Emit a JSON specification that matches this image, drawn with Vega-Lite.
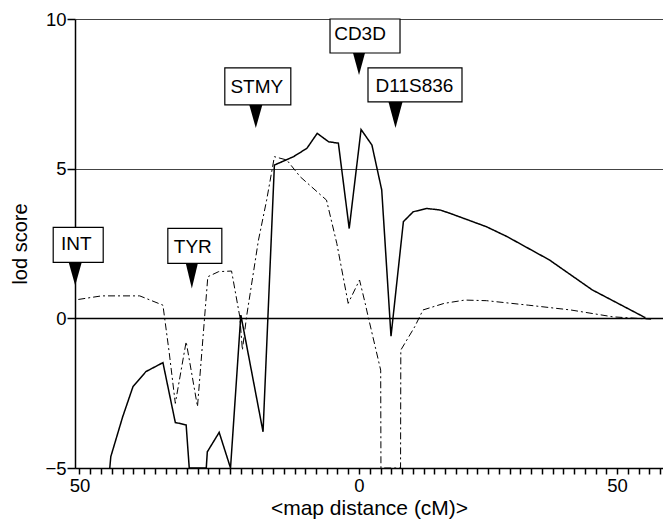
{
  "$schema": "https://vega.github.io/schema/vega-lite/v6.json",
  "width": 588,
  "height": 449,
  "autosize": {"type": "none"},
  "padding": {"left": 75, "top": 19, "right": 0, "bottom": 51},
  "background": "white",
  "config": {
    "view": {"stroke": null},
    "font": "Liberation Sans",
    "axis": {
      "labelFont": "Liberation Sans",
      "titleFont": "Liberation Sans",
      "labelColor": "black",
      "titleColor": "black",
      "titleFontWeight": "normal",
      "domainColor": "black"
    }
  },
  "datasets": {
    "curves": [
      {"s": "solid", "cM": -48.3, "lod": -5},
      {"s": "solid", "cM": -48.1, "lod": -4.62},
      {"s": "solid", "cM": -45.8, "lod": -3.29},
      {"s": "solid", "cM": -43.8, "lod": -2.28},
      {"s": "solid", "cM": -41.3, "lod": -1.78},
      {"s": "solid", "cM": -38.0, "lod": -1.48},
      {"s": "solid", "cM": -35.6, "lod": -3.48},
      {"s": "solid", "cM": -33.5, "lod": -3.56},
      {"s": "solid", "cM": -32.9, "lod": -5},
      {"s": "solid", "cM": -29.6, "lod": -5},
      {"s": "solid", "cM": -29.4, "lod": -4.46},
      {"s": "solid", "cM": -27.1, "lod": -3.81},
      {"s": "solid", "cM": -24.9, "lod": -5},
      {"s": "solid", "cM": -22.9, "lod": 0.11},
      {"s": "solid", "cM": -18.6, "lod": -3.79},
      {"s": "solid", "cM": -16.4, "lod": 5.12},
      {"s": "solid", "cM": -12.7, "lod": 5.4},
      {"s": "solid", "cM": -10.1, "lod": 5.68},
      {"s": "solid", "cM": -8.1, "lod": 6.18},
      {"s": "solid", "cM": -5.9, "lod": 5.9},
      {"s": "solid", "cM": -4.0, "lod": 5.85},
      {"s": "solid", "cM": -1.9, "lod": 3.0},
      {"s": "solid", "cM": 0.4, "lod": 6.31},
      {"s": "solid", "cM": 2.5, "lod": 5.79},
      {"s": "solid", "cM": 4.4, "lod": 4.29},
      {"s": "solid", "cM": 6.2, "lod": -0.6},
      {"s": "solid", "cM": 8.6, "lod": 3.23},
      {"s": "solid", "cM": 10.5, "lod": 3.56},
      {"s": "solid", "cM": 13.1, "lod": 3.67},
      {"s": "solid", "cM": 15.7, "lod": 3.62},
      {"s": "solid", "cM": 17.6, "lod": 3.51},
      {"s": "solid", "cM": 24.7, "lod": 3.06},
      {"s": "solid", "cM": 28.7, "lod": 2.73},
      {"s": "solid", "cM": 36.9, "lod": 1.95},
      {"s": "solid", "cM": 45.2, "lod": 0.95},
      {"s": "solid", "cM": 55.5, "lod": 0.02},
      {"s": "dashdot", "cM": -54.4, "lod": 0.63},
      {"s": "dashdot", "cM": -49.9, "lod": 0.75},
      {"s": "dashdot", "cM": -42.5, "lod": 0.75},
      {"s": "dashdot", "cM": -38.0, "lod": 0.44},
      {"s": "dashdot", "cM": -36.8, "lod": -1.12},
      {"s": "dashdot", "cM": -35.6, "lod": -2.84},
      {"s": "dashdot", "cM": -33.5, "lod": -0.78},
      {"s": "dashdot", "cM": -31.3, "lod": -2.95},
      {"s": "dashdot", "cM": -29.3, "lod": 1.39},
      {"s": "dashdot", "cM": -27.2, "lod": 1.56},
      {"s": "dashdot", "cM": -24.7, "lod": 1.58},
      {"s": "dashdot", "cM": -23.1, "lod": 0.05},
      {"s": "dashdot", "cM": -22.6, "lod": -1.06},
      {"s": "dashdot", "cM": -21.8, "lod": 0.05},
      {"s": "dashdot", "cM": -19.5, "lod": 2.6},
      {"s": "dashdot", "cM": -17.9, "lod": 3.95},
      {"s": "dashdot", "cM": -16.4, "lod": 5.4},
      {"s": "dashdot", "cM": -14.0, "lod": 5.29},
      {"s": "dashdot", "cM": -11.4, "lod": 4.73},
      {"s": "dashdot", "cM": -6.3, "lod": 3.95},
      {"s": "dashdot", "cM": -4.3, "lod": 2.5},
      {"s": "dashdot", "cM": -2.1, "lod": 0.5},
      {"s": "dashdot", "cM": 0.1, "lod": 1.28},
      {"s": "dashdot", "cM": 1.2, "lod": 0.5},
      {"s": "dashdot", "cM": 1.7, "lod": 0.11},
      {"s": "dashdot", "cM": 4.2, "lod": -1.73},
      {"s": "dashdot", "cM": 4.25, "lod": -5},
      {"s": "dashdot", "cM": 8.05, "lod": -5},
      {"s": "dashdot", "cM": 8.1, "lod": -1.06},
      {"s": "dashdot", "cM": 10.8, "lod": -0.28},
      {"s": "dashdot", "cM": 12.4, "lod": 0.28},
      {"s": "dashdot", "cM": 16.5, "lod": 0.5},
      {"s": "dashdot", "cM": 20.5, "lod": 0.61},
      {"s": "dashdot", "cM": 24.7, "lod": 0.59},
      {"s": "dashdot", "cM": 32.8, "lod": 0.44},
      {"s": "dashdot", "cM": 41.0, "lod": 0.28},
      {"s": "dashdot", "cM": 49.2, "lod": 0.05},
      {"s": "dashdot", "cM": 56.6, "lod": -0.03}
    ],
    "markers": [
      {"marker": "INT", "cM": -55.0, "lod": 1.1},
      {"marker": "TYR", "cM": -32.4, "lod": 1.0},
      {"marker": "STMY", "cM": -20.0, "lod": 6.36},
      {"marker": "CD3D", "cM": 0.0, "lod": 8.13},
      {"marker": "D11S836", "cM": 7.07, "lod": 6.36}
    ]
  },
  "encoding": {
    "x": {
      "field": "cM", "type": "quantitative",
      "title": "<map distance (cM)>",
      "scale": {"domain": [-55.04, 58.91], "nice": false, "zero": false},
      "axis": {
        "values": [-54.17, -52.08, -50, -47.92, -45.83, -43.75, -41.67, -39.58, -37.5, -35.42, -33.33, -31.25, -29.17, -27.08, -25, -22.92, -20.83, -18.75, -16.67, -14.58, -12.5, -10.42, -8.33, -6.25, -4.17, -2.08, 0, 2.08, 4.17, 6.25, 8.33, 10.42, 12.5, 14.58, 16.67, 18.75, 20.83, 22.92, 25, 27.08, 29.17, 31.25, 33.33, 35.42, 37.5, 39.58, 41.67, 43.75, 45.83, 47.92, 50, 52.08, 54.17, 56.25, 58.33],
        "labelExpr": "datum.value < -54 ? '50' : (abs(datum.value) < 0.01 ? '0' : (abs(datum.value - 50) < 0.01 ? '50' : ''))",
        "labelOverlap": false,
        "labelFlush": false,
        "labelBound": false,
        "labelFontSize": 18.5,
        "labelPadding": 2,
        "ticks": true,
        "tickSize": 6,
        "tickWidth": 1.5,
        "tickColor": "#000000",
        "tickOpacity": 1,
        "tickRound": true,
        "domainWidth": 1.5,
        "grid": false,
        "titleFontSize": 21,
        "titlePadding": 3
      }
    },
    "y": {
      "field": "lod", "type": "quantitative",
      "title": "lod score",
      "scale": {"domain": [-5, 10], "nice": false, "zero": false},
      "axis": {
        "values": [-5, 0, 5, 10],
        "grid": true,
        "gridColor": {"condition": {"test": "datum.value == 0", "value": "black"}, "value": "#444"},
        "gridWidth": {"condition": {"test": "datum.value == 0", "value": 1.7}, "value": 1},
        "ticks": true,
        "tickSize": 8,
        "tickWidth": 1.5,
        "tickColor": "#000000",
        "tickOpacity": 1,
        "labelFontSize": 18.5,
        "labelPadding": 1,
        "labelFlush": false,
        "domainWidth": 1.5,
        "titleFontSize": 20,
        "titlePadding": 14
      }
    }
  },
  "layer": [
    {
      "data": {"name": "curves"},
      "mark": {"type": "line", "color": "black", "clip": true},
      "encoding": {
        "strokeDash": {
          "field": "s", "type": "nominal",
          "scale": {"domain": ["solid", "dashdot"], "range": [[1, 0], [7, 3, 2, 3]]},
          "legend": null
        },
        "strokeWidth": {
          "field": "s", "type": "nominal",
          "scale": {"domain": ["solid", "dashdot"], "range": [1.5, 1]},
          "legend": null
        },
        "detail": {"field": "s", "type": "nominal"}
      }
    },
    {
      "data": {"name": "markers"},
      "mark": {"type": "point", "filled": true, "color": "black", "opacity": 1, "strokeWidth": 0, "size": 400, "clip": false},
      "encoding": {
        "shape": {
          "field": "marker", "type": "nominal", "legend": null,
          "scale": {
            "domain": ["INT", "TYR", "STMY", "CD3D", "D11S836"],
            "range": [
              "M-0.65,-2.3L0.65,-2.3L0,0Z",
              "M-0.6,-2.5L0.6,-2.5L0,0Z",
              "M-0.65,-2.3L0.65,-2.3L0,0Z",
              "M-0.6,-2.2L0.6,-2.2L0,0Z",
              "M-0.7,-2.6L0.7,-2.6L0,0Z"
            ]
          }
        }
      }
    },
    {
      "data": {"name": "markers"},
      "mark": {"type": "point", "filled": true, "fill": "white", "stroke": "black", "strokeWidth": 1.2, "opacity": 1, "size": 400, "clip": false},
      "encoding": {
        "shape": {
          "field": "marker", "type": "nominal", "legend": null,
          "scale": {
            "domain": ["INT", "TYR", "STMY", "CD3D", "D11S836"],
            "range": [
              "M-2.2,-5.8L2.8,-5.8L2.8,-2.3L-2.2,-2.3Z",
              "M-2.4,-6L3,-6L3,-2.5L-2.4,-2.5Z",
              "M-3.1,-6L3.5,-6L3.5,-2.3L-3.1,-2.3Z",
              "M-2.9,-5.6L4.1,-5.6L4.1,-2.2L-2.9,-2.2Z",
              "M-2.75,-6L6.65,-6L6.65,-2.6L-2.75,-2.6Z"
            ]
          }
        }
      }
    },
    {
      "data": {"name": "markers"},
      "transform": [{"filter": "datum.marker != 'D11S836'"}],
      "mark": {"type": "text", "color": "black", "fontSize": 19, "font": "Liberation Sans", "baseline": "middle", "align": "center", "dy": -41, "dx": 1, "clip": false},
      "encoding": {
        "text": {"field": "marker", "type": "nominal"}
      }
    },
    {
      "data": {"name": "markers"},
      "transform": [{"filter": "datum.marker == 'D11S836'"}],
      "mark": {"type": "text", "color": "black", "fontSize": 19, "font": "Liberation Sans", "baseline": "middle", "align": "center", "dy": -42, "dx": 19, "clip": false},
      "encoding": {
        "text": {"field": "marker", "type": "nominal"}
      }
    }
  ],
  "resolve": {"scale": {"shape": "independent"}}
}
